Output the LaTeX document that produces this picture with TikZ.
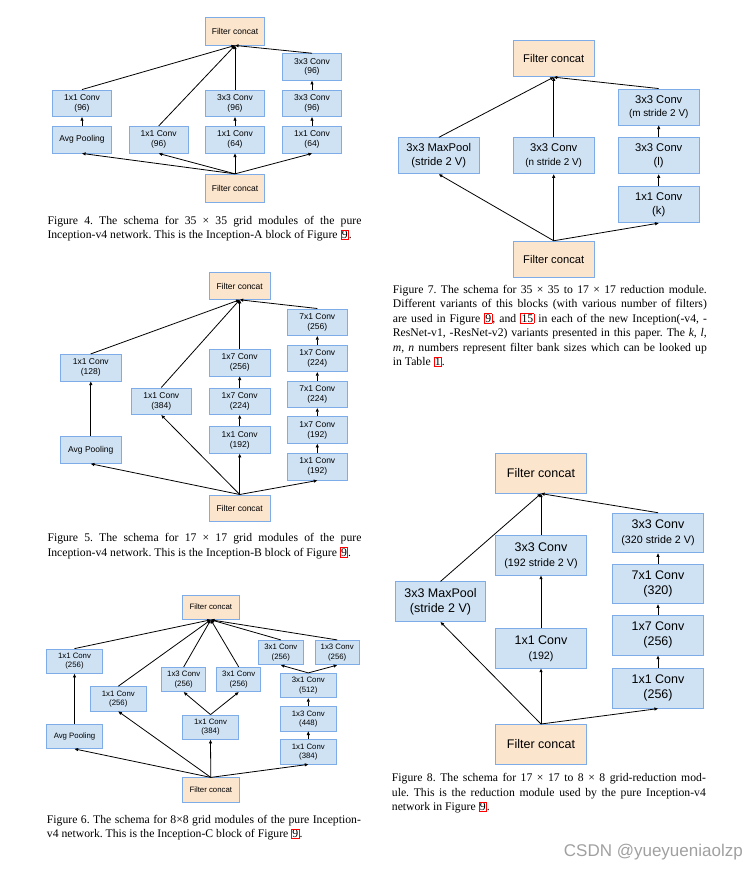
\documentclass[tikz,border=0pt]{standalone}
\usepackage{fontspec}
\setmainfont{Liberation Serif}
\newfontfamily\boxfont{Liberation Sans}
\usetikzlibrary{positioning, arrows.meta}

\definecolor{convfill}{HTML}{CFE2F3}
\definecolor{catfill}{HTML}{FCE5CD}
\definecolor{boxline}{HTML}{7DACE8}
\definecolor{wmgray}{HTML}{A0A0A0}

\newcommand{\boxsize}[2]{\fontsize{#1}{#2}\selectfont}
\newcommand{\refbox}[1]{{\setlength{\fboxsep}{0.4pt}\setlength{\fboxrule}{0.8pt}\fcolorbox{red}{white}{#1}}}

\begin{document}
\begin{tikzpicture}[
    x=1pt, y=-1pt,
    >={Triangle[length=3.6pt, width=3pt]},
    conv/.style={draw=boxline, fill=convfill, line width=0.9pt, inner sep=0pt, align=center},
    concat/.style={conv, fill=catfill},
    flow/.style={->, line width=0.8pt},
    caption/.style={anchor=base west, text width=314pt, align=justify, inner sep=0pt,
        font=\frenchspacing\boxsize{11.7}{14.5}},
    sizeA/.style={font=\boxfont\boxsize{8.5}{9.8}, minimum width=59.4pt, minimum height=26.6pt},
    sizeB/.style={font=\boxfont\boxsize{8.5}{10}, minimum width=60.6pt, minimum height=26.7pt},
    sizeC/.style={font=\boxfont\boxsize{7.8}{9.3}, minimum width=55.6pt, minimum height=24.3pt},
    sizeD/.style={font=\boxfont\boxsize{11.2}{13.5}, minimum width=80.7pt, minimum height=36pt},
    sizeE/.style={font=\boxfont\boxsize{12.5}{15}, minimum width=90.7pt, minimum height=39.7pt}
]
    \useasboundingbox (0,0) rectangle (746,870);

    % --- Figure 4: Inception-A ---
    \node[concat, sizeA, minimum height=28pt] (topA) at (235,31) {Filter concat};
    \node[concat, sizeA, minimum height=28.4pt] (botA) at (235,188.5) {Filter concat};
    \node[conv, sizeA] (poolA) at (82,139.7) {Avg Pooling};
    \node[conv, sizeA] (poolconvA) at (82,103.3) {1x1 Conv\\(96)};
    \node[conv, sizeA] (oneA) at (158.7,139.7) {1x1 Conv\\(96)};
    \node[conv, sizeA] (redA) at (235,139.7) {1x1 Conv\\(64)};
    \node[conv, sizeA] (threeA) at (235,103.3) {3x3 Conv\\(96)};
    \node[conv, sizeA] (dredA) at (312,139.7) {1x1 Conv\\(64)};
    \node[conv, sizeA] (dmidA) at (312,103.3) {3x3 Conv\\(96)};
    \node[conv, sizeA] (dtopA) at (312,67) {3x3 Conv\\(96)};

    \foreach \n in {poolA, oneA, redA, dredA}
        \draw[flow] (botA.north) -- (\n.south);
    \draw[flow] (poolA) -- (poolconvA);
    \draw[flow] (redA) -- (threeA);
    \draw[flow] (dredA) -- (dmidA);
    \draw[flow] (dmidA) -- (dtopA);
    \foreach \n in {poolconvA, oneA, threeA, dtopA}
        \draw[flow] (\n.north) -- (topA.south);

    \node[caption] (capA) at (47.3,224) {Figure 4. The schema for 35 × 35 grid modules of the pure\linebreak
        Inception-v4 network. This is the Inception-A block of Figure \refbox{9}.};

    % --- Figure 5: Inception-B ---
    \node[concat, sizeB] (topB) at (239.7,286) {Filter concat};
    \node[concat, sizeB] (botB) at (239.7,508.3) {Filter concat};
    \node[conv, sizeB] (poolB) at (90.8,450) {Avg Pooling};
    \node[conv, sizeB] (poolconvB) at (90.8,367.7) {1x1 Conv\\(128)};
    \node[conv, sizeB] (oneB) at (161.3,401.3) {1x1 Conv\\(384)};
    \node[conv, sizeB] (redB) at (239.7,440) {1x1 Conv\\(192)};
    \node[conv, sizeB] (midB) at (239.7,401.3) {1x7 Conv\\(224)};
    \node[conv, sizeB] (sevenB) at (239.7,362.7) {1x7 Conv\\(256)};
    \node[conv, sizeB] (dredB) at (317.3,466.7) {1x1 Conv\\(192)};
    \node[conv, sizeB] (dB1) at (317.3,430) {1x7 Conv\\(192)};
    \node[conv, sizeB] (dB2) at (317.3,394.3) {7x1 Conv\\(224)};
    \node[conv, sizeB] (dB3) at (317.3,358.3) {1x7 Conv\\(224)};
    \node[conv, sizeB] (dtopB) at (317.3,322.3) {7x1 Conv\\(256)};

    \foreach \n in {poolB, oneB, redB, dredB}
        \draw[flow] (botB.north) -- (\n.south);
    \draw[flow] (poolB) -- (poolconvB);
    \draw[flow] (redB) -- (midB);
    \draw[flow] (midB) -- (sevenB);
    \draw[flow] (dredB) -- (dB1);
    \draw[flow] (dB1) -- (dB2);
    \draw[flow] (dB2) -- (dB3);
    \draw[flow] (dB3) -- (dtopB);
    \foreach \n in {poolconvB, oneB, sevenB, dtopB}
        \draw[flow] (\n.north) -- (topB.south);

    \node[caption] (capB) at (47.3,541.7) {Figure 5. The schema for 17 × 17 grid modules of the pure\linebreak
        Inception-v4 network. This is the Inception-B block of Figure \refbox{9}.};

    % --- Figure 6: Inception-C ---
    \node[concat, sizeC, minimum width=56.3pt] (topC) at (210.8,607.2) {Filter concat};
    \node[concat, sizeC, minimum width=56.3pt] (botC) at (210.8,790) {Filter concat};
    \node[conv, sizeC] (poolC) at (74.5,736.3) {Avg Pooling};
    \node[conv, sizeC] (poolconvC) at (74.5,661.2) {1x1 Conv\\(256)};
    \node[conv, sizeC] (oneC) at (118.3,698.8) {1x1 Conv\\(256)};
    \node[conv, sizeC] (redC) at (210.5,727.2) {1x1 Conv\\(384)};
    \node[conv, sizeC, minimum width=44pt] (leftC) at (183.7,679.5) {1x3 Conv\\(256)};
    \node[conv, sizeC, minimum width=44pt] (rightC) at (238.7,679.5) {3x1 Conv\\(256)};
    \node[conv, sizeC] (dredC) at (308.3,751.8) {1x1 Conv\\(384)};
    \node[conv, sizeC] (dC1) at (308.3,718.8) {1x3 Conv\\(448)};
    \node[conv, sizeC] (dC2) at (308.3,685.5) {3x1 Conv\\(512)};
    \node[conv, sizeC, minimum width=45pt] (dleftC) at (280.8,652.5) {3x1 Conv\\(256)};
    \node[conv, sizeC, minimum width=44.3pt] (drightC) at (337.2,652.5) {1x3 Conv\\(256)};

    \foreach \n in {poolC, oneC, redC, dredC}
        \draw[flow] (botC.north) -- (\n.south);
    \draw[flow] (poolC) -- (poolconvC);
    \draw[flow] (redC.north) -- (leftC.south);
    \draw[flow] (redC.north) -- (rightC.south);
    \draw[flow] (dredC) -- (dC1);
    \draw[flow] (dC1) -- (dC2);
    \draw[flow] (dC2.north) -- (dleftC.south);
    \draw[flow] (dC2.north) -- (drightC.south);
    \foreach \n in {poolconvC, oneC, leftC, rightC, dleftC, drightC}
        \draw[flow] (\n.north) -- (topC.south);

    \node[caption] (capC) at (46.7,823.3) {Figure 6. The schema for 8×8 grid modules of the pure Inception-\linebreak
        v4 network. This is the Inception-C block of Figure \refbox{9}.};

    % --- Figure 7: reduction 35 -> 17 ---
    \node[concat, sizeD] (topD) at (553.7,58.7) {Filter concat};
    \node[concat, sizeD] (botD) at (553.7,259.2) {Filter concat};
    \node[conv, sizeD] (poolD) at (438.8,155.8) {3x3 MaxPool\\(stride 2 V)};
    \node[conv, sizeD] (midD) at (553.7,155.8) {3x3 Conv\\{\boxsize{9.9}{12}(n stride 2 V)}};
    \node[conv, sizeD] (dD1) at (658.7,204.7) {1x1 Conv\\(k)};
    \node[conv, sizeD] (dD2) at (658.7,155.8) {3x3 Conv\\(l)};
    \node[conv, sizeD] (dD3) at (658.7,107) {3x3 Conv\\{\boxsize{9.9}{12}(m stride 2 V)}};

    \foreach \n in {poolD, midD, dD1}
        \draw[flow] (botD.north) -- (\n.south);
    \draw[flow] (dD1) -- (dD2);
    \draw[flow] (dD2) -- (dD3);
    \foreach \n in {poolD, midD, dD3}
        \draw[flow] (\n.north) -- (topD.south);

    \node[caption] (capD) at (392.7,293.3) {Figure 7. The schema for 35 × 35 to 17 × 17 reduction module.\linebreak
        Different variants of this blocks (with various number of filters)\linebreak
        are used in Figure \refbox{9}, and \refbox{15} in each of the new Inception(-v4, -\linebreak
        ResNet-v1, -ResNet-v2) variants presented in this paper. The \textit{k}, \textit{l},\linebreak
        \textit{m}, \textit{n} numbers represent filter bank sizes which can be looked up\linebreak
        in Table \refbox{1}.};

    % --- Figure 8: reduction 17 -> 8 ---
    \node[concat, sizeE] (topE) at (541,473.3) {Filter concat};
    \node[concat, sizeE] (botE) at (541,744.3) {Filter concat};
    \node[conv, sizeE] (poolE) at (440.5,601.7) {3x3 MaxPool\\(stride 2 V)};
    \node[conv, sizeE] (redE) at (541,648.3) {1x1 Conv\\{\boxsize{10.7}{13}(192)}};
    \node[conv, sizeE] (midE) at (541,555.3) {3x3 Conv\\{\boxsize{10.7}{13}(192 stride 2 V)}};
    \node[conv, sizeE] (dE1) at (658,688.3) {1x1 Conv\\(256)};
    \node[conv, sizeE] (dE2) at (658,635.3) {1x7 Conv\\(256)};
    \node[conv, sizeE] (dE3) at (658,584) {7x1 Conv\\(320)};
    \node[conv, sizeE] (dE4) at (658,533) {3x3 Conv\\{\boxsize{10.7}{13}(320 stride 2 V)}};

    \foreach \n in {poolE, redE, dE1}
        \draw[flow] (botE.north) -- (\n.south);
    \draw[flow] (redE) -- (midE);
    \draw[flow] (dE1) -- (dE2);
    \draw[flow] (dE2) -- (dE3);
    \draw[flow] (dE3) -- (dE4);
    \foreach \n in {poolE, midE, dE4}
        \draw[flow] (\n.north) -- (topE.south);

    \node[caption] (capE) at (391.7,781.7) {Figure 8. The schema for 17 × 17 to 8 × 8 grid-reduction mod-\linebreak
        ule. This is the reduction module used by the pure Inception-v4\linebreak
        network in Figure \refbox{9}.};

    % --- watermark ---
    \node[font=\boxfont\boxsize{17}{20}, text=wmgray, anchor=east, inner sep=0pt] (mark) at (743,851.7) {CSDN @yueyueniaolzp};

\end{tikzpicture}
\end{document}
